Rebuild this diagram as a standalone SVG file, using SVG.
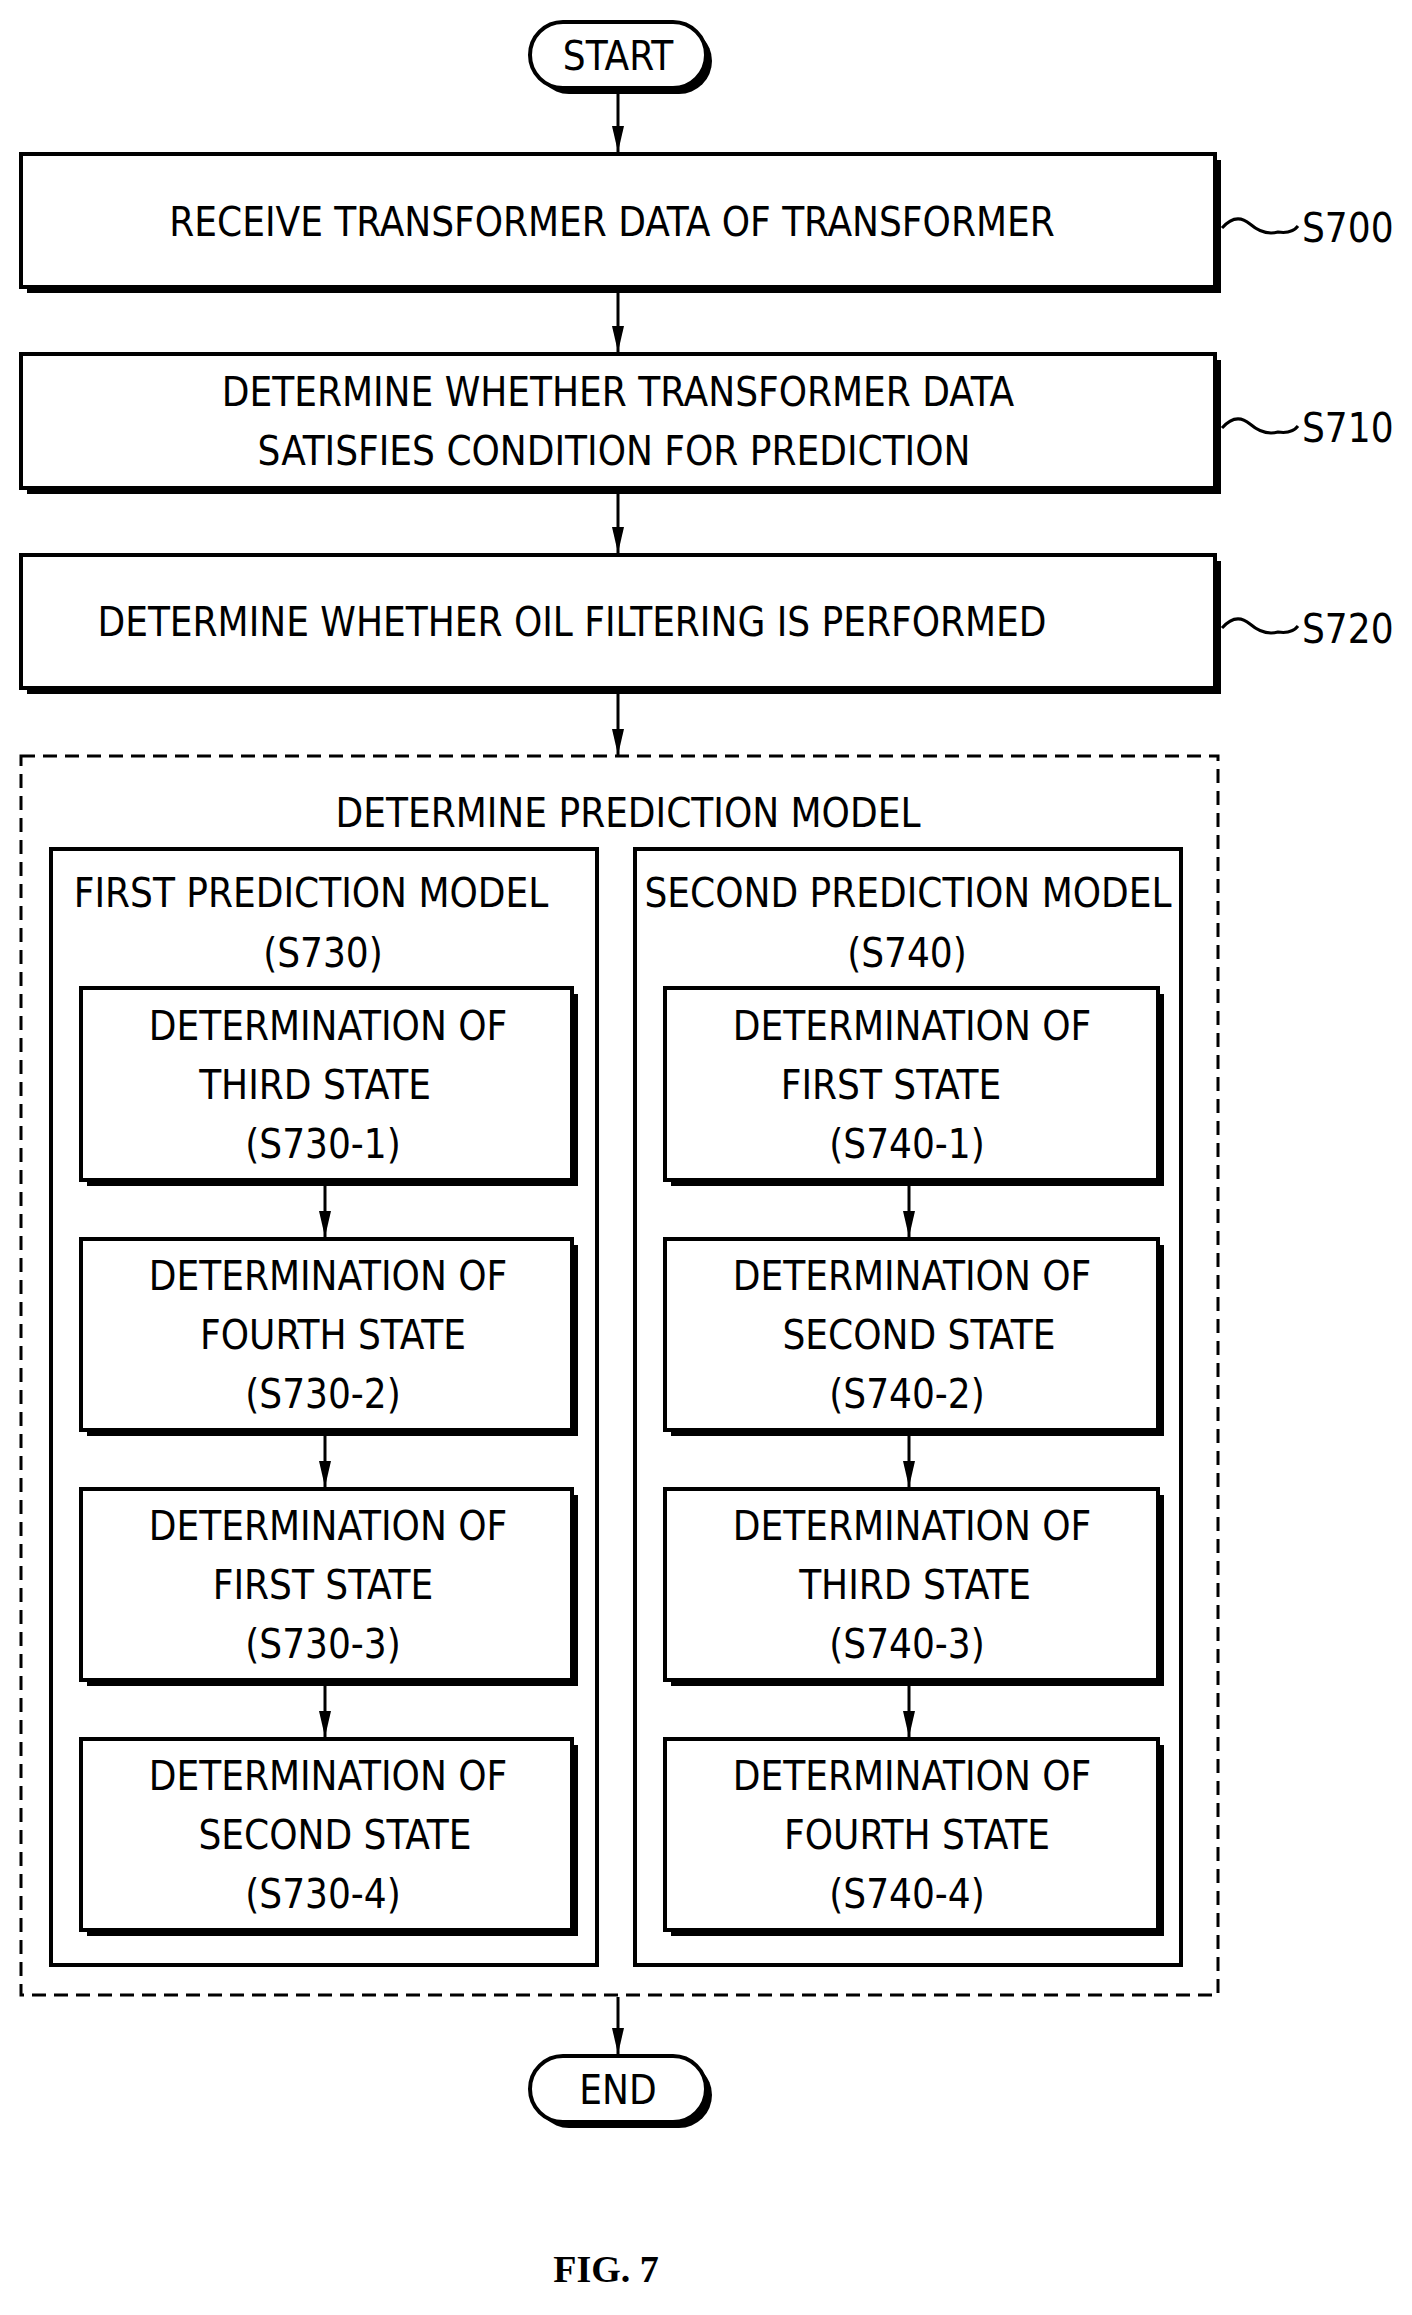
<svg xmlns="http://www.w3.org/2000/svg" width="1412" height="2315" viewBox="0 0 1412 2315">
<style>
text{font-family:"DejaVu Sans Condensed","DejaVu Sans",sans-serif;font-size:40px;fill:#000;text-anchor:middle}
.b{fill:#fff;stroke:#000;stroke-width:4}
.sh{fill:#000}
.c{stroke:#000;stroke-width:3;fill:none}
.lab{text-anchor:start}
</style>
<defs>
<marker id="d" markerWidth="26" markerHeight="12" viewBox="0 0 26 12" refX="26" refY="6" orient="auto" markerUnits="userSpaceOnUse"><path d="M0,0 L26,6 L0,12 Z" fill="#000"/></marker></defs>
<g id="connectors">
<path class="c" d="M618 90 V152" marker-end="url(#d)"/>
<path class="c" d="M618 293 V352" marker-end="url(#d)"/>
<path class="c" d="M618 494 V553" marker-end="url(#d)"/>
<path class="c" d="M618 694 V755" marker-end="url(#d)"/>
<path class="c" d="M618 1997 V2054" marker-end="url(#d)"/>
<path class="c" d="M325 1186 V1237" marker-end="url(#d)"/>
<path class="c" d="M325 1436 V1487" marker-end="url(#d)"/>
<path class="c" d="M325 1686 V1737" marker-end="url(#d)"/>
<path class="c" d="M909 1186 V1237" marker-end="url(#d)"/>
<path class="c" d="M909 1436 V1487" marker-end="url(#d)"/>
<path class="c" d="M909 1686 V1737" marker-end="url(#d)"/>
<path class="c" d="M1222 228 q14 -16 28 -4 t28 8 q14 2 20 -6 M1222 428 q14 -16 28 -4 t28 8 q14 2 20 -6 M1222 628 q14 -16 28 -4 t28 8 q14 2 20 -6"/>
</g>
<g id="start"><rect class="sh" x="536" y="28" width="176" height="66" rx="33"/><rect class="b" x="530" y="22" width="176" height="66" rx="33"/><text x="618" y="70">START</text></g>
<g id="s700"><rect class="sh" x="27" y="160" width="1194" height="133"/><rect class="b" x="21" y="154" width="1194" height="133"/><text x="612" y="236">RECEIVE TRANSFORMER DATA OF TRANSFORMER</text><text class="lab" x="1302" y="242">S700</text></g>
<g id="s710"><rect class="sh" x="27" y="360" width="1194" height="134"/><rect class="b" x="21" y="354" width="1194" height="134"/><text x="618" y="406">DETERMINE WHETHER TRANSFORMER DATA</text><text x="614" y="465">SATISFIES CONDITION FOR PREDICTION</text><text class="lab" x="1302" y="442">S710</text></g>
<g id="s720"><rect class="sh" x="27" y="561" width="1194" height="133"/><rect class="b" x="21" y="555" width="1194" height="133"/><text x="572" y="636">DETERMINE WHETHER OIL FILTERING IS PERFORMED</text><text class="lab" x="1302" y="643">S720</text></g>
<g id="predict"><rect x="21" y="756" width="1197" height="1239" fill="none" stroke="#000" stroke-width="3" stroke-dasharray="14 8"/><text x="628" y="827">DETERMINE PREDICTION MODEL</text></g>
<g id="s730"><rect x="51" y="849" width="546" height="1116" fill="none" stroke="#000" stroke-width="4"/><text x="311" y="907">FIRST PREDICTION MODEL</text><text x="323" y="967">(S730)</text></g>
<g id="s740"><rect x="635" y="849" width="546" height="1116" fill="none" stroke="#000" stroke-width="4"/><text x="908" y="907">SECOND PREDICTION MODEL</text><text x="907" y="967">(S740)</text></g>
<g id="s730-1"><rect class="sh" x="87" y="994" width="491" height="192"/><rect class="b" x="81" y="988" width="491" height="192"/><text x="328" y="1040">DETERMINATION OF</text><text x="315" y="1099">THIRD STATE</text><text x="323" y="1158">(S730-1)</text></g>
<g id="s730-2"><rect class="sh" x="87" y="1245" width="491" height="191"/><rect class="b" x="81" y="1239" width="491" height="191"/><text x="328" y="1290">DETERMINATION OF</text><text x="333" y="1349">FOURTH STATE</text><text x="323" y="1408">(S730-2)</text></g>
<g id="s730-3"><rect class="sh" x="87" y="1495" width="491" height="191"/><rect class="b" x="81" y="1489" width="491" height="191"/><text x="328" y="1540">DETERMINATION OF</text><text x="323" y="1599">FIRST STATE</text><text x="323" y="1658">(S730-3)</text></g>
<g id="s730-4"><rect class="sh" x="87" y="1745" width="491" height="191"/><rect class="b" x="81" y="1739" width="491" height="191"/><text x="328" y="1790">DETERMINATION OF</text><text x="335" y="1849">SECOND STATE</text><text x="323" y="1908">(S730-4)</text></g>
<g id="s740-1"><rect class="sh" x="671" y="994" width="493" height="192"/><rect class="b" x="665" y="988" width="493" height="192"/><text x="912" y="1040">DETERMINATION OF</text><text x="891" y="1099">FIRST STATE</text><text x="907" y="1158">(S740-1)</text></g>
<g id="s740-2"><rect class="sh" x="671" y="1245" width="493" height="191"/><rect class="b" x="665" y="1239" width="493" height="191"/><text x="912" y="1290">DETERMINATION OF</text><text x="919" y="1349">SECOND STATE</text><text x="907" y="1408">(S740-2)</text></g>
<g id="s740-3"><rect class="sh" x="671" y="1495" width="493" height="191"/><rect class="b" x="665" y="1489" width="493" height="191"/><text x="912" y="1540">DETERMINATION OF</text><text x="915" y="1599">THIRD STATE</text><text x="907" y="1658">(S740-3)</text></g>
<g id="s740-4"><rect class="sh" x="671" y="1745" width="493" height="191"/><rect class="b" x="665" y="1739" width="493" height="191"/><text x="912" y="1790">DETERMINATION OF</text><text x="917" y="1849">FOURTH STATE</text><text x="907" y="1908">(S740-4)</text></g>
<g id="end"><rect class="sh" x="536" y="2062" width="176" height="66" rx="33"/><rect class="b" x="530" y="2056" width="176" height="66" rx="33"/><text x="618" y="2104">END</text></g>
<text x="606" y="2282" style="font-family:'Liberation Serif',serif;font-weight:bold;font-size:38px">FIG. 7</text>
</svg>
